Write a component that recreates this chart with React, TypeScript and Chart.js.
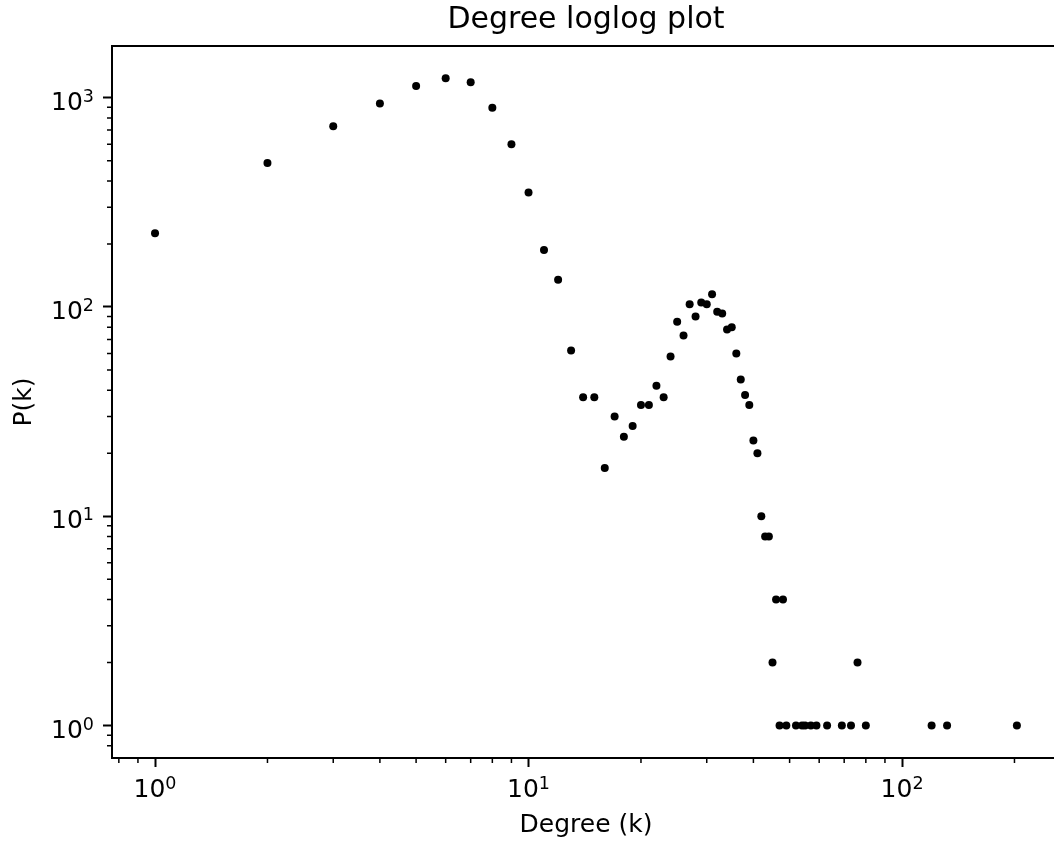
import React, { useEffect, useRef } from 'react';
import { Chart, registerables } from 'chart.js';

Chart.register(...registerables);

// Degree k and count P(k)
const degrees = [
  1, 2, 3, 4, 5, 6, 7, 8, 9, 10,
  11, 12, 13, 14, 15, 16, 17, 18, 19, 20,
  21, 22, 23, 24, 25, 26, 27, 28, 29, 30,
  31, 32, 33, 34, 35, 36, 37, 38, 39, 40,
  41, 42, 43, 44, 45, 46, 47, 48, 49, 52,
  54, 55, 57, 59, 63, 69, 73, 76, 80, 120,
  132, 203,
];
const counts = [
  225, 487, 731, 939, 1136, 1237, 1184, 896, 600, 352,
  187, 135, 62, 37, 37, 17, 30, 24, 27, 34,
  34, 42, 37, 58, 85, 73, 103, 90, 105, 103,
  115, 95, 93, 78, 80, 60, 45, 38, 34, 23,
  20, 10, 8, 8, 2, 4, 1, 4, 1, 1,
  1, 1, 1, 1, 1, 1, 1, 2, 1, 1,
  1, 1,
];

const xMajorTicks = [1, 10, 100];
const yMajorTicks = [1, 10, 100, 1000];
const xMinorTicks = [0.8, 0.9, 2, 3, 4, 5, 6, 7, 8, 9, 20, 30, 40, 50, 60, 70, 80, 90, 200];
const yMinorTicks = [0.8, 0.9, 2, 3, 4, 5, 6, 7, 8, 9, 20, 30, 40, 50, 60, 70, 80, 90, 200, 300, 400, 500, 600, 700, 800, 900];

const xMin = 0.767;
const xMax = 264.8;
const yMin = 0.7005;
const yMax = 1766;

const FONT = "'DejaVu Sans', sans-serif";
const W = 1064;
const H = 841;

const exponentOf = (v: number) => String(Math.round(Math.log10(v)));

const framePlugin = {
  id: 'frameMinor',
  afterDraw(chart: any) {
    const { ctx, chartArea } = chart;
    const xs = chart.scales.x;
    const ys = chart.scales.y;
    ctx.save();
    ctx.strokeStyle = '#000';
    ctx.lineWidth = 1.5;
    ctx.beginPath();
    for (const v of xMinorTicks) {
      const px = xs.getPixelForValue(v);
      if (px < chartArea.left || px > chartArea.right) continue;
      ctx.moveTo(px, chartArea.bottom);
      ctx.lineTo(px, chartArea.bottom + 5);
    }
    for (const v of yMinorTicks) {
      const py = ys.getPixelForValue(v);
      if (py < chartArea.top || py > chartArea.bottom) continue;
      ctx.moveTo(chartArea.left, py);
      ctx.lineTo(chartArea.left - 5, py);
    }
    ctx.stroke();
    ctx.lineWidth = 2;
    ctx.beginPath();
    ctx.moveTo(chartArea.left, chartArea.top);
    ctx.lineTo(chartArea.right, chartArea.top);
    ctx.lineTo(chartArea.right, chartArea.bottom);
    ctx.stroke();

    // tick labels in the form 10^n
    ctx.fillStyle = '#000';
    ctx.textBaseline = 'alphabetic';
    ctx.textAlign = 'left';
    const big = `25px ${FONT}`;
    const small = `17.5px ${FONT}`;
    const drawPow = (v: number, xLeft: number, baseline: number) => {
      ctx.font = big;
      ctx.fillText('10', xLeft, baseline);
      const w1 = ctx.measureText('10').width;
      ctx.font = small;
      ctx.fillText(exponentOf(v), xLeft + w1, baseline - 8);
    };
    const widthPow = (v: number) => {
      ctx.font = big;
      const w1 = ctx.measureText('10').width;
      ctx.font = small;
      return w1 + ctx.measureText(exponentOf(v)).width;
    };
    for (const v of xMajorTicks) {
      const px = xs.getPixelForValue(v);
      const w = widthPow(v);
      drawPow(v, px - w / 2, chartArea.bottom + 39);
    }
    for (const v of yMajorTicks) {
      const py = ys.getPixelForValue(v);
      const w = widthPow(v);
      drawPow(v, chartArea.left - 18 - w, py + 12);
    }
    ctx.restore();
  },
};

export default function App() {
  const ref = useRef<HTMLCanvasElement | null>(null);
  useEffect(() => {
    if (!ref.current) return;
    const chart = new Chart(ref.current, {
      type: 'scatter',
      data: {
        datasets: [
          {
            data: degrees.map((k, i) => ({ x: k, y: counts[i] })),
            backgroundColor: '#000',
            borderColor: '#000',
            borderWidth: 0,
            pointRadius: 4,
            pointHoverRadius: 4,
          },
        ],
      },
      options: {
        animation: false,
        responsive: false,
        devicePixelRatio: 1,
        layout: { padding: 0 },
        plugins: {
          legend: { display: false },
          tooltip: { enabled: false },
          title: {
            display: true,
            text: 'Degree loglog plot',
            fullSize: false,
            color: '#000',
            font: { family: FONT, size: 30, weight: 'normal', lineHeight: 1.2 },
            padding: { top: 2, bottom: 8 },
          },
        },
        scales: {
          x: {
            type: 'logarithmic',
            min: xMin,
            max: xMax,
            afterBuildTicks: (s: any) => {
              s.ticks = xMajorTicks.map((v) => ({ value: v, major: true }));
            },
            afterFit: (s: any) => {
              s.height = 83;
            },
            ticks: {
              display: false,
              autoSkip: false,
              maxRotation: 0,
            },
            grid: {
              display: true,
              drawOnChartArea: false,
              drawTicks: true,
              tickLength: 9,
              tickWidth: 2,
              tickColor: '#000',
            },
            border: { display: true, color: '#000', width: 2 },
            title: {
              display: true,
              text: 'Degree (k)',
              color: '#000',
              font: { family: FONT, size: 25, lineHeight: 1.2 },
              padding: { top: 0, bottom: 1 },
            },
          },
          y: {
            type: 'logarithmic',
            min: yMin,
            max: yMax,
            afterBuildTicks: (s: any) => {
              s.ticks = yMajorTicks.map((v) => ({ value: v, major: true }));
            },
            afterFit: (s: any) => {
              s.width = 112;
            },
            ticks: {
              display: false,
              autoSkip: false,
            },
            grid: {
              display: true,
              drawOnChartArea: false,
              drawTicks: true,
              tickLength: 9,
              tickWidth: 2,
              tickColor: '#000',
            },
            border: { display: true, color: '#000', width: 2 },
            title: {
              display: true,
              text: 'P(k)',
              color: '#000',
              font: { family: FONT, size: 25, lineHeight: 1.2 },
              padding: { top: 9, bottom: 0 },
            },
          },
        },
      },
      plugins: [framePlugin],
    } as any);
    return () => chart.destroy();
  }, []);

  return (
    <div
      style={{
        position: 'fixed',
        left: 0,
        top: 0,
        width: 1054,
        height: H,
        overflow: 'hidden',
        background: '#fff',
      }}
    >
      <canvas ref={ref} width={W} height={H} style={{ width: W, height: H, display: 'block' }} />
    </div>
  );
}
